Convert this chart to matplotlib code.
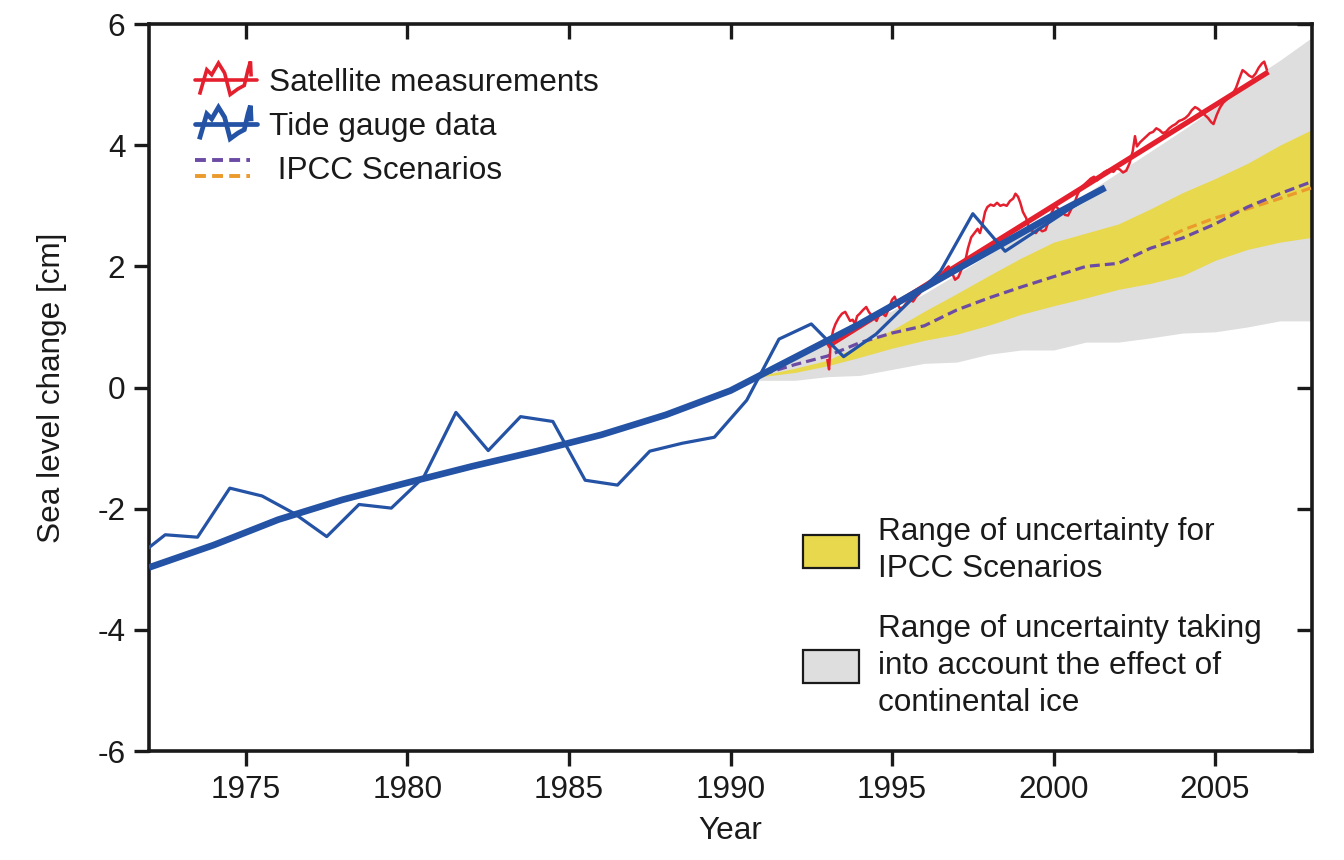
import numpy as np
import matplotlib
matplotlib.use('Agg')
import matplotlib.pyplot as plt
from matplotlib.lines import Line2D
from matplotlib.patches import Patch
from matplotlib.legend_handler import HandlerBase

plt.rcParams['font.family'] = ['Liberation Sans', 'DejaVu Sans']
plt.rcParams['axes.unicode_minus'] = False

RED = '#e5202e'
BLUE = '#2452a4'
YELLOW = '#e8d84e'
GREY = '#dedede'
PURPLE = '#6b4ba3'
ORANGE = '#eb9a2c'

# tide gauge, annual means (mid-year)
tide_years = [1971.5, 1972.5, 1973.5, 1974.5, 1975.5, 1976.5, 1977.5, 1978.5, 1979.5,
              1980.5, 1981.5, 1982.5, 1983.5, 1984.5, 1985.5, 1986.5, 1987.5, 1988.5,
              1989.5, 1990.5, 1991.5, 1992.5, 1993.5, 1994.5, 1995.5, 1996.5, 1997.5,
              1998.5, 1999.5, 2000.5, 2001.5]
tide_vals = [-2.85, -2.43, -2.47, -1.66, -1.79, -2.08, -2.46, -1.93, -1.99,
             -1.48, -0.41, -1.04, -0.48, -0.56, -1.53, -1.61, -1.05, -0.92,
             -0.82, -0.21, 0.80, 1.05, 0.51, 0.88, 1.40, 1.92, 2.87,
             2.25, 2.60, 2.95, 3.28]

# tide gauge smoothed trend
trend_years = [1972, 1974, 1976, 1978, 1980, 1982, 1984, 1986, 1988, 1990,
               1992, 1994, 1996, 1998, 2000, 2001.6]
trend_vals = [-2.97, -2.60, -2.18, -1.85, -1.57, -1.30, -1.05, -0.78, -0.45, -0.05,
              0.50, 1.05, 1.65, 2.25, 2.85, 3.30]

# satellite altimetry
sat_years = [1993.00, 1993.05, 1993.10, 1993.18, 1993.25, 1993.35, 1993.45, 1993.55, 1993.62,
             1993.70, 1993.78, 1993.85, 1993.92, 1994.00, 1994.10, 1994.20, 1994.28, 1994.35,
             1994.45, 1994.52, 1994.60, 1994.70, 1994.80, 1994.90, 1995.00, 1995.08, 1995.15,
             1995.25, 1995.35, 1995.45, 1995.55, 1995.65, 1995.75, 1995.85, 1995.95, 1996.05,
             1996.15, 1996.25, 1996.35, 1996.45, 1996.55, 1996.65, 1996.75, 1996.85, 1996.95,
             1997.05, 1997.15, 1997.25, 1997.35, 1997.45, 1997.55, 1997.65, 1997.72, 1997.80,
             1997.88, 1997.95, 1998.05, 1998.15, 1998.25, 1998.35, 1998.45, 1998.55, 1998.65,
             1998.75, 1998.82, 1998.90, 1998.97, 1999.05, 1999.15, 1999.25, 1999.35, 1999.45,
             1999.55, 1999.65, 1999.75, 1999.85, 1999.95, 2000.05, 2000.15, 2000.25, 2000.35,
             2000.45, 2000.55, 2000.65, 2000.75, 2000.85, 2000.95, 2001.05, 2001.15, 2001.25,
             2001.35, 2001.45, 2001.55, 2001.65, 2001.75, 2001.85, 2001.95, 2002.05, 2002.15,
             2002.25, 2002.35, 2002.45, 2002.52, 2002.58, 2002.68, 2002.78, 2002.88, 2002.98,
             2003.08, 2003.18, 2003.28, 2003.38, 2003.48, 2003.58, 2003.68, 2003.78, 2003.88,
             2003.98, 2004.08, 2004.18, 2004.28, 2004.38, 2004.48, 2004.58, 2004.68, 2004.78,
             2004.88, 2004.95, 2005.05, 2005.15, 2005.25, 2005.35, 2005.45, 2005.55, 2005.65,
             2005.75, 2005.85, 2005.95, 2006.05, 2006.15, 2006.25, 2006.35, 2006.45, 2006.52,
             2006.60]
sat_vals = [0.45, 0.30, 0.75, 0.95, 1.05, 1.15, 1.22, 1.25, 1.18,
            1.10, 1.12, 1.05, 1.18, 1.22, 1.28, 1.33, 1.25, 1.20,
            1.14, 1.10, 1.20, 1.22, 1.18, 1.30, 1.45, 1.50, 1.40,
            1.30, 1.33, 1.40, 1.45, 1.42, 1.50, 1.55, 1.62, 1.68,
            1.72, 1.70, 1.78, 1.82, 1.88, 1.95, 2.00, 1.90, 1.78,
            1.82, 1.95, 2.05, 2.30, 2.48, 2.55, 2.62, 2.55, 2.70,
            2.90, 2.98, 3.02, 3.00, 3.05, 3.00, 3.02, 3.00, 3.08,
            3.12, 3.20, 3.15, 3.05, 2.90, 2.80, 2.62, 2.58, 2.55,
            2.62, 2.58, 2.60, 2.75, 2.90, 3.00, 2.95, 2.92, 2.85,
            2.84, 2.95, 3.05, 3.20, 3.30, 3.35, 3.40, 3.45, 3.48,
            3.42, 3.50, 3.55, 3.58, 3.60, 3.56, 3.62, 3.60, 3.55,
            3.58, 3.70, 3.90, 4.15, 3.98, 4.05, 4.10, 4.15, 4.20,
            4.22, 4.28, 4.25, 4.20, 4.22, 4.28, 4.32, 4.35, 4.40,
            4.42, 4.45, 4.50, 4.58, 4.63, 4.60, 4.55, 4.50, 4.45,
            4.38, 4.35, 4.50, 4.62, 4.70, 4.75, 4.80, 4.85, 4.95,
            5.10, 5.24, 5.20, 5.15, 5.12, 5.18, 5.28, 5.35, 5.38,
            5.25]

# satellite linear trend end points
sat_fit_years = [1993.0, 2006.65]
sat_fit_vals = [0.68, 5.21]

# IPCC projections and ranges
band_years = [1990.5, 1992, 1993, 1994, 1995, 1996, 1997, 1998, 1999, 2000,
              2001, 2002, 2003, 2004, 2005, 2006, 2007, 2008]
grey_low = [0.12, 0.12, 0.18, 0.20, 0.30, 0.40, 0.42, 0.55, 0.62, 0.62,
            0.75, 0.75, 0.82, 0.90, 0.92, 1.00, 1.10, 1.10]
grey_high = [0.15, 0.50, 0.75, 1.00, 1.27, 1.55, 1.87, 2.20, 2.52, 2.85,
             3.20, 3.55, 3.90, 4.25, 4.62, 5.05, 5.40, 5.78]
yellow_low = [0.15, 0.25, 0.36, 0.50, 0.65, 0.78, 0.88, 1.03, 1.21, 1.35,
              1.48, 1.62, 1.72, 1.85, 2.10, 2.28, 2.40, 2.48]
yellow_high = [0.15, 0.32, 0.45, 0.70, 0.95, 1.26, 1.55, 1.85, 2.14, 2.40,
               2.55, 2.70, 2.95, 3.22, 3.45, 3.70, 4.00, 4.26]

ipcc_years = [1991, 1992, 1993, 1994, 1995, 1996, 1997, 1998, 1999, 2000,
              2001, 2002, 2003, 2004, 2005, 2006, 2007, 2008]
ipcc_vals = [0.22, 0.38, 0.52, 0.74, 0.90, 1.02, 1.28, 1.48, 1.66, 1.83,
             2.00, 2.05, 2.30, 2.47, 2.70, 2.98, 3.20, 3.40]
ipcc2_years = [2003.3, 2004, 2005, 2006, 2007, 2008]
ipcc2_vals = [2.42, 2.60, 2.80, 2.95, 3.12, 3.30]

x_ticks = [1975, 1980, 1985, 1990, 1995, 2000, 2005]
y_ticks = [-6, -4, -2, 0, 2, 4, 6]

DASH = (0, (3.1, 1.6))
FS = 22.7
INK = '#1a1a1a'


class WiggleHandler(HandlerBase):
    # zigzag legend icon like the original figure
    def create_artists(self, legend, orig_handle, xdescent, ydescent,
                       width, height, fontsize, trans):
        c = orig_handle.get_color()
        lw = orig_handle.get_linewidth()
        y0 = height / 2 - ydescent
        fx = np.array([0.08, 0.19, 0.27, 0.38, 0.48, 0.57, 0.70, 0.80, 0.86, 0.90, 0.91])
        fy = np.array([-0.8, 0.6, 0.3, 1.0, 0.4, -0.9, -0.55, -0.35, 0.6, 1.1, 0.3])
        base = Line2D([-xdescent, width - xdescent], [y0, y0], color=c, lw=lw,
                      solid_capstyle='round')
        wig = Line2D(-xdescent + fx * width, y0 + fy * height * 0.75, color=c,
                     lw=lw, solid_joinstyle='miter')
        base.set_transform(trans)
        wig.set_transform(trans)
        return [base, wig]


class TwoDashHandler(HandlerBase):
    def create_artists(self, legend, orig_handle, xdescent, ydescent,
                       width, height, fontsize, trans):
        y0 = height / 2 - ydescent
        out = []
        for c, dy in [(PURPLE, 0.36), (ORANGE, -0.36)]:
            ln = Line2D([-xdescent, width * 0.9 - xdescent], [y0 + dy * height] * 2,
                        color=c, lw=2.8, ls=(0, (2.8, 1.6)))
            ln.set_transform(trans)
            out.append(ln)
        return out


fig = plt.figure(figsize=(13.44, 8.6), dpi=100)
ax = fig.add_axes([0.1109, 0.1267, 0.8653, 0.8453])

ax.fill_between(band_years, grey_low, grey_high, color=GREY, lw=0, zorder=1)
ax.fill_between(band_years, yellow_low, yellow_high, color=YELLOW, lw=0, zorder=2)
ax.plot(ipcc2_years, ipcc2_vals, color=ORANGE, lw=2.3, ls=DASH, zorder=3)
ax.plot(ipcc_years, ipcc_vals, color=PURPLE, lw=2.3, ls=DASH, zorder=4)
ax.plot(sat_years, sat_vals, color=RED, lw=1.8, zorder=5)
ax.plot(sat_fit_years, sat_fit_vals, color=RED, lw=3.8, solid_capstyle='butt', zorder=6)
ax.plot(tide_years, tide_vals, color=BLUE, lw=2.3, zorder=7)
ax.plot(trend_years, trend_vals, color=BLUE, lw=4.8, solid_capstyle='butt', zorder=8)

ax.set_xlim(1972, 2008)
ax.set_ylim(-6, 6)
ax.set_xticks(x_ticks)
ax.set_yticks(y_ticks)
ax.set_xticklabels([str(v) for v in x_ticks], fontsize=FS)
ax.set_yticklabels([str(v) for v in y_ticks], fontsize=FS)
ax.tick_params(direction='out', length=11, width=2.4, colors=INK,
               labelcolor=INK, pad=6)
for s in ax.spines.values():
    s.set_linewidth(2.6)
    s.set_color(INK)

top = ax.secondary_xaxis('top')
top.set_xticks(x_ticks)
top.tick_params(direction='in', length=11, width=2.4, labeltop=False, colors=INK)
right = ax.secondary_yaxis('right')
right.set_yticks(y_ticks)
right.tick_params(direction='in', length=11, width=2.4, labelright=False, colors=INK)

ax.set_xlabel('Year', fontsize=FS, color=INK, labelpad=8)
ax.set_ylabel('Sea level change [cm]', fontsize=FS, color=INK, labelpad=22)

h_sat = Line2D([], [], color=RED, lw=2.6)
h_tide = Line2D([], [], color=BLUE, lw=3.4)
h_ipcc = Line2D([], [], color=PURPLE)
leg1 = ax.legend([h_sat, h_tide, h_ipcc],
                 ['Satellite measurements', 'Tide gauge data', ' IPCC Scenarios'],
                 handler_map={h_sat: WiggleHandler(), h_tide: WiggleHandler(),
                              h_ipcc: TwoDashHandler()},
                 loc='upper left', bbox_to_anchor=(0.0396, 0.94), borderaxespad=0,
                 borderpad=0, frameon=False, fontsize=FS, handlelength=1.95,
                 handletextpad=0.4, labelspacing=0.45, labelcolor=INK)
ax.add_artist(leg1)

p_yel = Patch(facecolor=YELLOW, edgecolor=INK, lw=1.6)
p_grey = Patch(facecolor=GREY, edgecolor=INK, lw=1.6)
leg2 = ax.legend([p_yel, p_grey],
                 ['Range of uncertainty for\nIPCC Scenarios',
                  'Range of uncertainty taking\ninto account the effect of\ncontinental ice'],
                 loc='upper left', bbox_to_anchor=(0.562, 0.322), borderaxespad=0,
                 borderpad=0, frameon=False, fontsize=FS, handlelength=1.8,
                 handleheight=1.25, handletextpad=0.58, labelspacing=0.95,
                 labelcolor=INK)
for t in leg2.get_texts():
    t.set_linespacing(1.3)

fig.savefig('out.png', dpi=100)
